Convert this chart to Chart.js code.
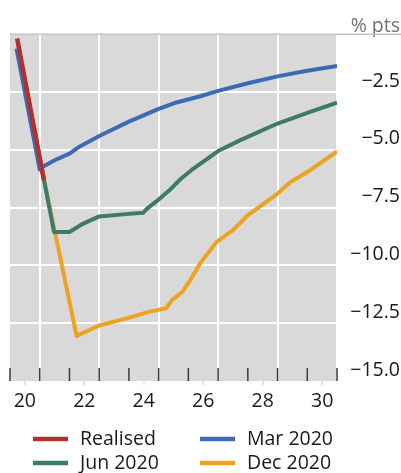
<!DOCTYPE html>
<html lang="en">
<head>
    <meta charset="UTF-8">
    <title>Forecast paths</title>
    <script src="https://cdn.jsdelivr.net/npm/chart.js"></script>
    <style>
        body { margin: 0; background: #ffffff; }
        #wrap { width: 401px; height: 473px; }
    </style>
</head>
<body>
    <div id="wrap"><canvas id="myChart"></canvas></div>

    <script>
    // x values are decimal years, y values are % pts
    var realisedYears  = [2020.24, 2020.7, 2021.14];
    var realisedValues = [-0.18, -3.3, -6.3];

    var mar20Years  = [2020.22, 2021.0, 2021.15, 2021.5, 2022.0, 2022.35, 2023.0, 2023.4, 2024.0, 2025.0, 2025.6, 2026.4, 2027.0, 2028.0, 2029.0, 2030.0, 2031.0];
    var mar20Values = [-0.62, -5.85, -5.7, -5.45, -5.16, -4.85, -4.4, -4.15, -3.78, -3.23, -2.95, -2.68, -2.45, -2.12, -1.82, -1.58, -1.37];

    var jun20Years  = [2020.47, 2021.48, 2022.0, 2022.45, 2023.0, 2023.9, 2024.48, 2024.6, 2025.0, 2025.4, 2025.75, 2026.1, 2027.0, 2027.75, 2029.0, 2030.0, 2031.0];
    var jun20Values = [-1.8, -8.55, -8.55, -8.2, -7.88, -7.78, -7.72, -7.55, -7.15, -6.7, -6.25, -5.88, -5.05, -4.58, -3.86, -3.4, -2.96];

    var dec20Years  = [2021.0, 2022.24, 2023.0, 2023.9, 2024.7, 2025.25, 2025.45, 2025.8, 2026.1, 2026.4, 2026.95, 2027.5, 2028.0, 2029.0, 2029.45, 2030.1, 2031.0];
    var dec20Values = [-5.4, -13.05, -12.6, -12.3, -12.0, -11.85, -11.5, -11.14, -10.56, -9.9, -8.98, -8.47, -7.83, -6.89, -6.38, -5.88, -5.07];

    // axis ticks
    var labelYears = [2020.5, 2022.5, 2024.5, 2026.5, 2028.5, 2030.5];
    var yearLabels = ['20', '22', '24', '26', '28', '30'];
    var gridYears  = [2021, 2023, 2025, 2027, 2029, 2031];
    var yearMarks  = [2020, 2021, 2022, 2023, 2024, 2025, 2026, 2027, 2028, 2029, 2030, 2031];
    var yTickValues = [-15, -12.5, -10, -7.5, -5, -2.5, 0];
    var yTickLabels = ['\u221215.0', '\u221212.5', '\u221210.0', '\u22127.5', '\u22125.0', '\u22122.5', ''];

    function toPoints(xs, ys) {
        return xs.map(function (x, i) { return { x: x, y: ys[i] }; });
    }

    //-----grey plot area-----
    var plotBackground = {
        id: 'plotBackground',
        beforeDraw: function (chart) {
            var a = chart.chartArea, c = chart.ctx;
            c.save();
            c.fillStyle = '#d9d9d9';
            c.fillRect(a.left, a.top, a.right - a.left, a.bottom - a.top);
            c.restore();
        }
    };

    //-----year ticks inside the bottom edge + rule along the top-----
    var frameMarks = {
        id: 'frameMarks',
        beforeDatasetsDraw: function (chart) {
            var a = chart.chartArea, c = chart.ctx;
            var xs = chart.scales.x, ys = chart.scales.y;
            c.save();
            c.strokeStyle = '#3a3a3a';
            c.lineWidth = 1.5;
            yearMarks.forEach(function (yr) {
                var px = xs.getPixelForValue(yr);
                c.beginPath();
                c.moveTo(px, a.bottom);
                c.lineTo(px, a.bottom - 13);
                c.stroke();
            });
            var top = ys.getPixelForValue(0);
            c.strokeStyle = '#c4c4c4';
            c.lineWidth = 1.5;
            c.beginPath();
            c.moveTo(a.left, top);
            c.lineTo(chart.width, top);
            c.stroke();
            c.restore();
        }
    };

    //-----legend in two fixed columns under the axis-----
    var twoColumnLegend = {
        id: 'twoColumnLegend',
        afterDraw: function (chart) {
            var c = chart.ctx;
            var top = chart.scales.x.bottom;
            c.save();
            c.font = "19.5px 'Open Sans', sans-serif";
            c.textBaseline = 'middle';
            c.textAlign = 'left';
            chart.data.datasets.forEach(function (ds, i) {
                var x = 33 + (i % 2) * 167;
                var y = top + 14.5 + Math.floor(i / 2) * 24;
                c.fillStyle = ds.borderColor;
                c.fillRect(x, y - 2.25, 35, 4.5);
                c.fillStyle = '#1a1a1a';
                c.fillText(ds.label, x + 47, y);
            });
            c.restore();
        }
    };

    Chart.defaults.font.family = "'Open Sans', sans-serif";
    Chart.defaults.font.size = 19.5;
    Chart.defaults.color = '#1a1a1a';

    var lineStyle = { pointRadius: 0, borderWidth: 4, tension: 0, fill: false, borderJoinStyle: 'round' };

    var ctx = document.getElementById('myChart').getContext('2d');
    var myChart = new Chart(ctx, {
        type: 'line',
        data: {
            datasets: [
                Object.assign({ label: 'Realised', data: toPoints(realisedYears, realisedValues), borderColor: '#b2302e', backgroundColor: '#b2302e' }, lineStyle, { borderWidth: 4.5 }),
                Object.assign({ label: 'Mar 2020', data: toPoints(mar20Years, mar20Values), borderColor: '#3b6bb4', backgroundColor: '#3b6bb4' }, lineStyle),
                Object.assign({ label: 'Jun 2020', data: toPoints(jun20Years, jun20Values), borderColor: '#3c7b66', backgroundColor: '#3c7b66' }, lineStyle),
                Object.assign({ label: 'Dec 2020', data: toPoints(dec20Years, dec20Values), borderColor: '#eba321', backgroundColor: '#eba321' }, lineStyle)
            ]
        },
        options: {
            responsive: true,
            maintainAspectRatio: false,
            animation: false,
            layout: { padding: { left: 10, right: 1, top: 0, bottom: 48.5 } },
            scales: {
                x: {
                    type: 'linear',
                    min: 2020,
                    max: 2031,
                    afterBuildTicks: function (scale) {
                        scale.ticks = labelYears.concat(gridYears).sort().map(function (v) { return { value: v }; });
                    },
                    afterFit: function (scale) { scale.height = 43.5; },
                    border: { display: false },
                    grid: {
                        lineWidth: 2,
                        color: function (c) { return gridYears.indexOf(c.tick.value) >= 0 ? '#ffffff' : 'rgba(0,0,0,0)'; },
                        tickColor: function (c) { return labelYears.indexOf(c.tick.value) >= 0 ? '#c8c8c8' : 'rgba(0,0,0,0)'; },
                        tickLength: 4,
                        tickWidth: 1
                    },
                    ticks: {
                        autoSkip: false,
                        maxRotation: 0,
                        padding: 5,
                        callback: function (v) {
                            var i = labelYears.indexOf(v);
                            return i < 0 ? '' : yearLabels[i];
                        }
                    }
                },
                y: {
                    position: 'right',
                    min: -15,
                    max: 0,
                    afterBuildTicks: function (scale) {
                        scale.ticks = yTickValues.map(function (v) { return { value: v }; });
                    },
                    afterFit: function (scale) { scale.width = 63; },
                    border: { display: false },
                    grid: {
                        lineWidth: 2,
                        drawTicks: false,
                        color: function (c) { return (c.tick.value === 0 || c.tick.value === -15) ? 'rgba(0,0,0,0)' : '#ffffff'; }
                    },
                    ticks: {
                        crossAlign: 'far',
                        padding: 13,
                        labelOffset: -11,
                        callback: function (v) { return yTickLabels[yTickValues.indexOf(v)]; }
                    }
                }
            },
            plugins: {
                title: {
                    display: true,
                    text: '% pts',
                    align: 'end',
                    color: '#707070',
                    font: { size: 19.5, weight: 'normal' },
                    padding: { top: 14.5, bottom: -3.6 }
                },
                legend: { display: false },
                tooltip: { enabled: false }
            }
        },
        plugins: [plotBackground, frameMarks, twoColumnLegend]
    });
    </script>
</body>
</html>
